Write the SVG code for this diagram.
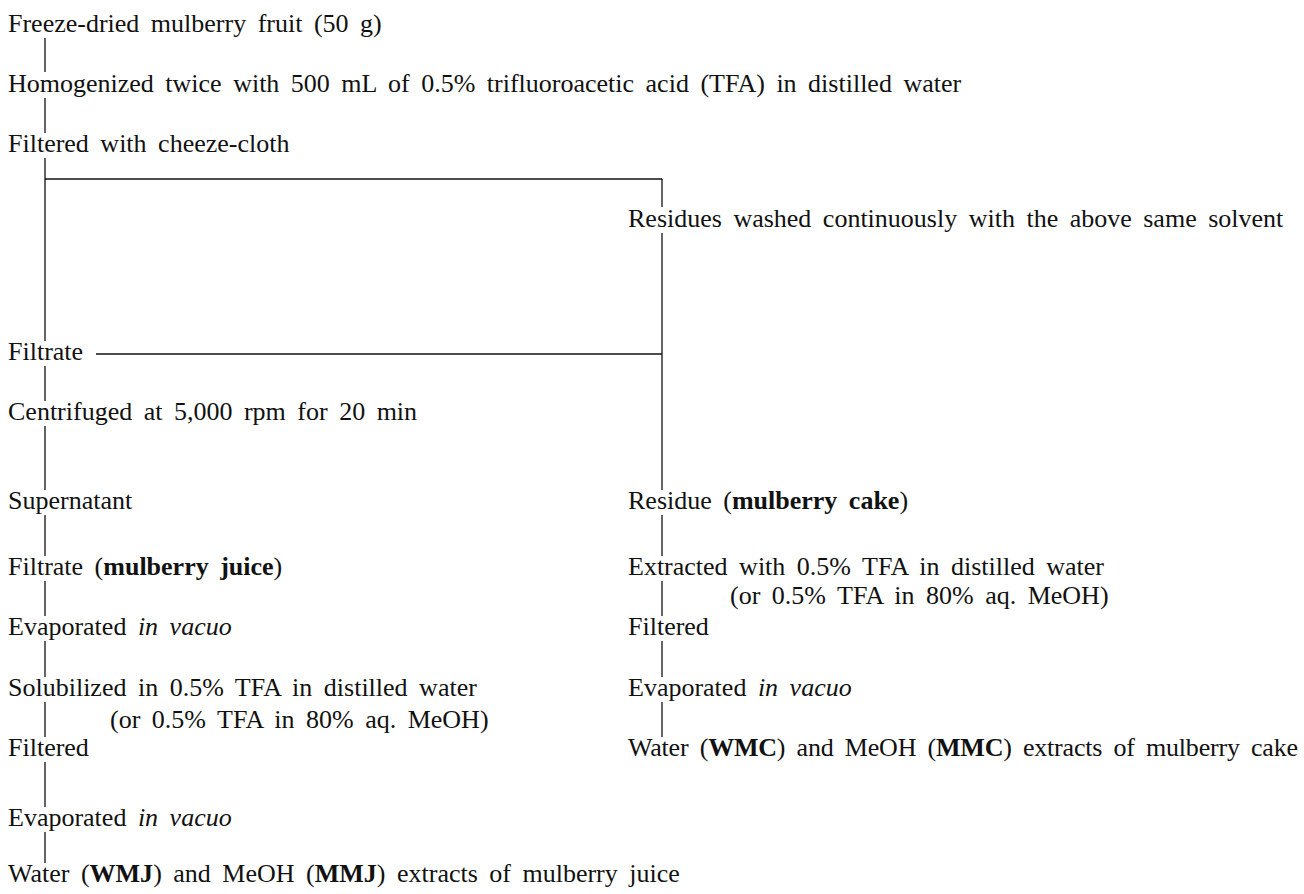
<svg xmlns="http://www.w3.org/2000/svg" width="1304" height="894" viewBox="0 0 1304 894">
<style>
text{font-family:"Liberation Serif","Times New Roman",serif;font-size:26px;fill:#111;word-spacing:5px}
.b{font-weight:bold}
.i{font-style:italic}
.c line{stroke:#111;stroke-width:1.3;fill:none}
</style>
<rect width="1304" height="894" fill="#fff"/>
<g class="c" id="connectors">
<line x1="45" y1="38" x2="45" y2="72"/>
<line x1="45" y1="98" x2="45" y2="133"/>
<line x1="45" y1="158" x2="45" y2="341"/>
<line x1="45" y1="179" x2="662" y2="179"/>
<line x1="662" y1="179" x2="662" y2="207"/>
<line x1="662" y1="233" x2="662" y2="490"/>
<line x1="96" y1="354" x2="662" y2="354"/>
<line x1="45" y1="366" x2="45" y2="401"/>
<line x1="45" y1="426" x2="45" y2="490"/>
<line x1="45" y1="515" x2="45" y2="556"/>
<line x1="45" y1="581" x2="45" y2="616"/>
<line x1="45" y1="641" x2="45" y2="677"/>
<line x1="45" y1="702" x2="45" y2="737"/>
<line x1="45" y1="762" x2="45" y2="807"/>
<line x1="45" y1="832" x2="45" y2="863"/>
<line x1="662" y1="515" x2="662" y2="556"/>
<line x1="662" y1="581" x2="662" y2="616"/>
<line x1="662" y1="641" x2="662" y2="677"/>
<line x1="662" y1="702" x2="662" y2="737"/>
</g>
<g id="n1"><text x="8" y="32">Freeze-dried mulberry fruit (50 g)</text></g>
<g id="n2"><text x="8" y="92">Homogenized twice with 500 mL of 0.5% trifluoroacetic acid (TFA) in distilled water</text></g>
<g id="n3"><text x="8" y="152">Filtered with cheeze-cloth</text></g>
<g id="n4"><text x="628" y="227">Residues washed continuously with the above same solvent</text></g>
<g id="n5"><text x="8" y="360">Filtrate</text></g>
<g id="n6"><text x="8" y="420">Centrifuged at 5,000 rpm for 20 min</text></g>
<g id="n7"><text x="8" y="509">Supernatant</text></g>
<g id="n8"><text x="8" y="575">Filtrate (<tspan class="b">mulberry juice</tspan>)</text></g>
<g id="n9"><text x="8" y="635">Evaporated <tspan class="i">in vacuo</tspan></text></g>
<g id="n10"><text x="8" y="696">Solubilized in 0.5% TFA in distilled water</text><text x="110" y="728">(or 0.5% TFA in 80% aq. MeOH)</text></g>
<g id="n11"><text x="8" y="756">Filtered</text></g>
<g id="n12"><text x="8" y="826">Evaporated <tspan class="i">in vacuo</tspan></text></g>
<g id="n13"><text x="8" y="882">Water (<tspan class="b">WMJ</tspan>) and MeOH (<tspan class="b">MMJ</tspan>) extracts of mulberry juice</text></g>
<g id="r1"><text x="628" y="509">Residue (<tspan class="b">mulberry cake</tspan>)</text></g>
<g id="r2"><text x="628" y="575">Extracted with 0.5% TFA in distilled water</text><text x="730" y="604">(or 0.5% TFA in 80% aq. MeOH)</text></g>
<g id="r3"><text x="628" y="635">Filtered</text></g>
<g id="r4"><text x="628" y="696">Evaporated <tspan class="i">in vacuo</tspan></text></g>
<g id="r5"><text x="628" y="756" textLength="670" lengthAdjust="spacing">Water (<tspan class="b">WMC</tspan>) and MeOH (<tspan class="b">MMC</tspan>) extracts of mulberry cake</text></g>
</svg>
